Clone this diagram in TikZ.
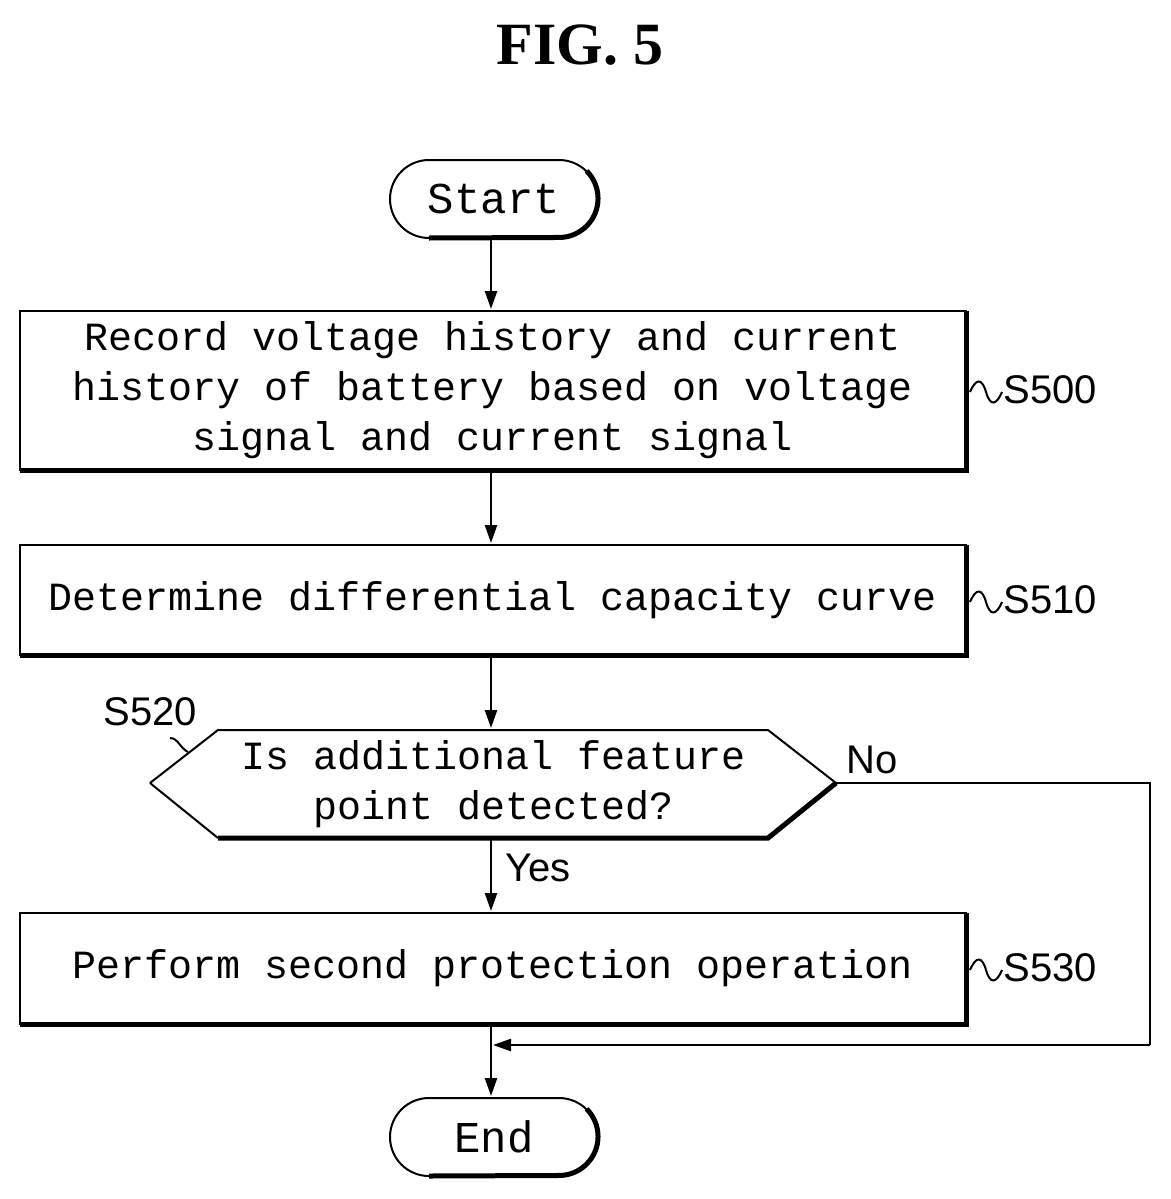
\documentclass[tikz,border=0pt]{standalone}
\usepackage{fontspec}
\setmainfont{Liberation Sans}
\newfontfamily\monof{Liberation Mono}
\newfontfamily\seriff{Liberation Serif}
\usetikzlibrary{arrows.meta}
\begin{document}
\begin{tikzpicture}[x=0.5pt,y=-0.5pt,
  txt/.style={font=\monof\fontsize{20}{25}\selectfont,align=center,inner sep=0pt},
  lab/.style={font=\fontsize{20}{24}\selectfont,inner sep=0pt,anchor=west},
  arr/.style={line width=1.2pt,-{Triangle[length=9pt,width=6pt]}},
  ln/.style={line width=1.2pt}]
\useasboundingbox (0,0) rectangle (1171,1199);
\node[font=\seriff\fontsize{30}{34}\selectfont\bfseries] (fig) at (580,45) {FIG. 5};
% boxes
\newcommand\shbox[5]{%
 \draw[line width=1pt] (#1,#2) rectangle (#3,#4);
 \draw[line width=2.5pt] (#1,#4) -- (#3,#4) -- (#3,#2);
 \coordinate (#5) at ({(#1+#3)/2},{(#2+#4)/2});}
\shbox{20}{311}{966}{470}{b500}
\shbox{20}{545}{966}{655}{b510}
\shbox{20}{913}{966}{1024}{b530}
\node[txt] (t500) at (b500) {Record voltage history and current\\history of battery based on voltage\\signal and current signal};
\node[txt] (t510) at (b510) {Determine differential capacity curve};
\node[txt] (t530) at (b530) {Perform second protection operation};
% start/end pills
\newcommand\pill[3]{%
 \draw[line width=1pt] (429,#1) -- (559,#1) arc[start angle=90,end angle=-90,radius=19.5pt] -- (429,#1+78) arc[start angle=270,end angle=90,radius=19.5pt] -- cycle;
 \draw[line width=2.5pt] (559,#1) ++(0,-0.5) ++(27.6,11.4) arc[start angle=45,end angle=-90,radius=19.5pt] -- (429,#1+78);
 \node[txt,font=\monof\fontsize{22}{26}\selectfont] (#2) at (494,#1+39) {#3};}
\pill{160}{st}{Start}
\pill{1098}{en}{End}
% decision
\draw[line width=1pt] (150,783) -- (218,730) -- (768,730) -- (836,783);
\draw[line width=2.5pt] (836,783) -- (768,838) -- (218,838);
\draw[line width=1pt] (218,838) -- (150,783);
\coordinate (dr) at (836,783);
\node[txt] (td) at (494,784) {Is additional feature\\point detected?};
% arrows
\draw[arr] (491,240) -- (491,309);
\draw[arr] (491,472) -- (491,543);
\draw[arr] (491,657) -- (491,728);
\draw[arr] (491,840) -- (491,911);
\draw[arr] (491,1026) -- (491,1096);
\coordinate (c1) at (1150,783);
\coordinate (c2) at (1150,1045);
\coordinate (c3) at (493,1045);
\draw[ln] (dr) -- (c1) -- (c2);
\draw[arr] (c2) -- (c3);
\node[lab] (no) at (846,760) {No};
\node[lab] (yes) at (505,868) {Yes};
% step labels
\newcommand\wave[2]{\draw[line width=1pt] (#1,#2) .. controls (#1+6,#2-14) and (#1+12,#2-14) .. (#1+16,#2) .. controls (#1+20,#2+14) and (#1+26,#2+14) .. (#1+32,#2);}
\wave{970}{392}\node[lab] (s500) at (1003,390) {S500};
\wave{970}{602}\node[lab] (s510) at (1003,600) {S510};
\wave{970}{970}\node[lab] (s530) at (1003,968) {S530};
\node[lab] (s520) at (103,712) {S520};
\draw[line width=1pt] (170,738) .. controls (178,738) and (180,748) .. (188,752);
\end{tikzpicture}
\end{document}
